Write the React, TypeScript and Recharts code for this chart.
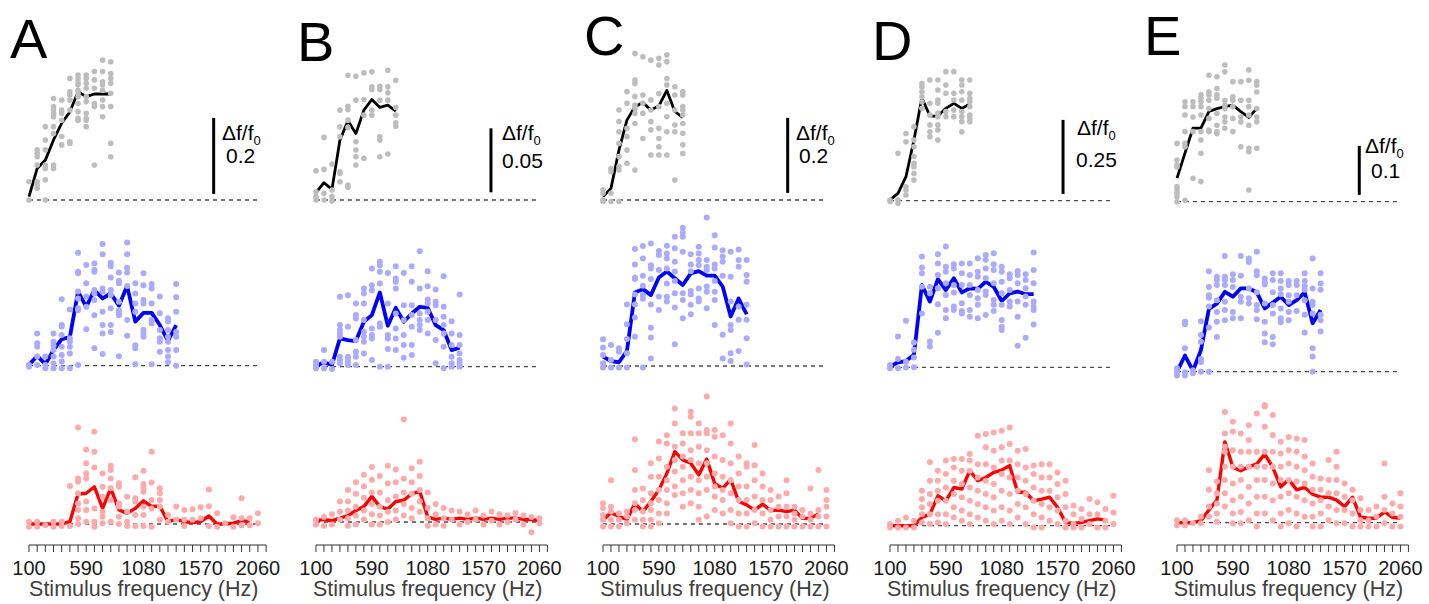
import { ComposedChart, Line, ReferenceLine, Scatter, XAxis, YAxis } from "recharts";

const FONT = '"Liberation Sans", Arial, Helvetica, sans-serif';

// stimulus frequencies (Hz) used by each row
const topFreqs = [100, 170, 240, 310, 380, 450, 520, 590, 660, 730, 800];
const midFreqs = [
  100, 170, 240, 310, 380, 450, 520, 590, 660, 730, 800, 870, 940, 1010, 1080, 1150, 1220, 1290, 1360,
];
const lowFreqs = [
  100, 170, 240, 310, 380, 450, 520, 590, 660, 730, 800, 870, 940, 1010, 1080, 1150, 1220, 1290, 1360,
  1430, 1500, 1570, 1640, 1710, 1780, 1850, 1920, 1990, 2060,
];
const axisTicks = [...lowFreqs, 2130];
const labeledTicks = [100, 590, 1080, 1570, 2060];

// ---------- A ----------
const aTopMean = [0.009, 0.083, 0.105, 0.158, 0.202, 0.232, 0.285, 0.272, 0.279, 0.279, 0.279];
const aTopCells = [
  [0.048, 0],
  [0.132, 0.123, 0.114, 0.092, 0.048, 0.039, 0.031],
  [0.193, 0.158, 0.132, 0.092, 0.083, 0.053, 0],
  [0.267, 0.246, 0.237, 0.228, 0.219, 0.193, 0.175, 0.092, 0.083],
  [0.263, 0.237, 0.228, 0.21, 0.167, 0.145],
  [0.32, 0.285, 0.276, 0.263, 0.237, 0.153, 0.149],
  [0.329, 0.32, 0.311, 0.303, 0.289, 0.281, 0.272, 0.254, 0.232, 0.215, 0.21],
  [0.329, 0.32, 0.307, 0.294, 0.272, 0.259, 0.228, 0.215, 0.21, 0.193],
  [0.338, 0.316, 0.294, 0.254, 0.246, 0.092],
  [0.368, 0.338, 0.311, 0.303, 0.289, 0.263, 0.246, 0.219],
  [0.364, 0.333, 0.32, 0.307, 0.281, 0.246, 0.149, 0.114],
];
const aMidMean = [
  0.002, 0.026, 0.004, 0.041, 0.07, 0.075, 0.195, 0.155, 0.199, 0.177, 0.19, 0.158, 0.21, 0.116, 0.139, 0.139,
  0.107, 0.065, 0.107,
];
const aMidCells = [
  [0.002, -0.003],
  [0.085, 0.059, 0.05, 0.024, 0.002],
  [0.024, 0.002, -0.007],
  [0.085, 0.063, 0.054, 0.041, 0.024, 0.006, -0.007],
  [0.175, 0.107, 0.103, 0.081, 0.05, 0.028, 0.011, -0.007],
  [0.148, 0.072, 0.063, 0.05, 0.032, -0.007],
  [0.297, 0.247, 0.243, 0.195, 0.177, 0.151, 0.146, 0.002],
  [0.265, 0.217, 0.182, 0.155, 0.096],
  [0.269, 0.252, 0.247, 0.199, 0.19, 0.173, 0.133, 0.046],
  [0.32, 0.293, 0.203, 0.195, 0.142, 0.107, 0.085, 0.031],
  [0.271, 0.262, 0.232, 0.199, 0.186, 0.151, 0.107, 0.089],
  [0.245, 0.223, 0.217, 0.168, 0.146, 0.138, 0.133, 0.025],
  [0.324, 0.293, 0.258, 0.245, 0.21, 0.12, 0.079],
  [0.217, 0.19, 0.164, 0.142, 0.054, 0.046, 0.004],
  [0.243, 0.212, 0.173, 0.164, 0.094, 0.085, 0.076],
  [0.215, 0.203, 0.164, 0.12, 0.111, 0.004],
  [0.182, 0.138, 0.094, 0.072, 0.063, 0.037],
  [0.125, 0.116, 0.094, 0.076, 0.063, 0.041, 0.024, 0.009],
  [0.215, 0.18, 0.142, 0.089, 0.076, 0.041, 0],
];
const aLowMean = [
  0, 0, 0, 0, 0, 0.006, 0.079, 0.081, 0.098, 0.041, 0.094, 0.037, 0.028, 0.041, 0.061, 0.046, 0.047, 0.006,
  0.012, 0.006, 0.004, 0.006, 0.021, 0, 0, 0.002, 0.009, 0.006,
];
const aLowCells = [
  [0.006, -0.007],
  [0.006, -0.007],
  [-0.003],
  [0.006, -0.007],
  [0.006, -0.005],
  [0.1, -0.005],
  [0.254, 0.12, 0.111, 0.081, 0.054, 0.037, 0.015, 0],
  [0.196, 0.16, 0.133, 0.12, 0.059, 0.037, 0.006],
  [0.243, 0.19, 0.149, 0.041, 0.006, -0.007],
  [0.133, 0.098, 0.072, 0.032, 0.019, 0.002],
  [0.153, 0.142, 0.12, 0.094, 0.063, 0.006],
  [0.107, 0.098, 0.054, 0.046, 0.019, 0],
  [0.072, 0.032, 0.006, -0.005],
  [0.123, 0.068, 0.059, 0.024, -0.005],
  [0.14, 0.105, 0.094, 0.085, 0.046, 0.024, -0.005],
  [0.19, 0.109, 0.063, 0.041, -0.007],
  [0.094, 0.081, 0.063, 0.046, 0.011],
  [0.024, 0.006],
  [0.046, 0.011],
  [0.037, 0.011, -0.005],
  [0.039, 0.011],
  [0.044, 0.015],
  [0.091, 0.047, -0.005],
  [0.028, -0.007],
  [0.002],
  [0.018, -0.007],
  [0.068, 0.015, -0.003],
  [0.015, -0.003],
  [0.028, 0.002],
];

// ---------- B ----------
const bTopMean = [0.0057, 0.0135, 0.0083, 0.0468, 0.0619, 0.052, 0.0702, 0.0785, 0.0723, 0.0741, 0.0694];
const bTopCells = [
  [0.0065, 0.0026, 0, 0.0229],
  [0.0239, 0.0052, 0, 0.0489],
  [0.0281, 0.0078, 0.0026, -0.0008],
  [0.0702, 0.0572, 0.0494, 0.0221, 0.0208, 0.0143],
  [0.0975, 0.0733, 0.0707, 0.0624, 0.0567, 0.0117, 0.0099],
  [0.0967, 0.078, 0.0455, 0.039, 0.0338, 0.0273],
  [0.0993, 0.0785, 0.0663, 0.0325],
  [0.1001, 0.0884, 0.0863, 0.0702, 0.0663],
  [0.0889, 0.0863, 0.078, 0.0494, 0.0468, 0.0338],
  [0.1014, 0.0884, 0.0837, 0.078, 0.0359],
  [0.0936, 0.0723, 0.0663, 0.0603, 0.0577],
];
const bMidMean = [
  0.0008, 0.0034, 0.0013, 0.0221, 0.0208, 0.02, 0.0351, 0.0403, 0.058, 0.032, 0.046, 0.0351, 0.0416, 0.0468,
  0.046, 0.0325, 0.0286, 0.013, 0.0148,
];
const bMidCells = [
  [0.0039, 0.0013, -0.0013],
  [0.013, 0.0039, -0.0013],
  [0.0039, -0.0018],
  [0.0546, 0.0325, 0.0286, 0.026, 0.0234, 0.0078, 0.0052, 0.0026],
  [0.0559, 0.0312, 0.0078, 0.0065, 0.0039, 0.0013],
  [0.0494, 0.0403, 0.0377, 0.0208, 0.0117, 0.0078, 0.0013],
  [0.0611, 0.0572, 0.0494, 0.0364, 0.0273, 0.0234, 0.0195, 0.0104],
  [0.0767, 0.0637, 0.0598, 0.0299, 0.0247, 0.0221, 0.0052],
  [0.0819, 0.0793, 0.0741, 0.065, 0.0338, 0.0312, 0],
  [0.0733, 0.0494, 0.0247, 0.0221, 0.0138, 0],
  [0.0785, 0.0689, 0.0663, 0.0611, 0.0416, 0.0299, 0.0221, 0.013],
  [0.0733, 0.0481, 0.0364, 0.0247, 0.0169, 0.007],
  [0.0785, 0.0663, 0.0481, 0.0403, 0.0312, 0.0169, 0.0091],
  [0.0902, 0.0611, 0.0416, 0.0364, 0.0325, 0.0286],
  [0.0746, 0.0629, 0.0525, 0.0494, 0.0429, 0.0364, 0.026],
  [0.0603, 0.0507, 0.0481, 0.0364, 0.0208, 0.0026],
  [0.0707, 0.0468, 0.039, 0.0325, 0.026, 0.0156, -0.0013],
  [0.0356, 0.026, 0.0169, 0.0078, 0.0026, 0],
  [0.0564, 0.0247, 0.0169, 0.0104, 0.0052, 0.0026, 0],
];
const bLowMean = [
  0.001, 0.002, 0.001, 0.003, 0.005, 0.009, 0.012, 0.02, 0.012, 0.01, 0.016, 0.017, 0.022, 0.024, 0.004, 0.002,
  0.003, 0.002, 0.003, 0.002, 0.003, 0.002, 0.003, 0.002, 0.003, 0.003, 0.002, 0.002, 0.001,
];
const bLowCells = [
  [0.002, -0.002],
  [0.004, -0.003],
  [0.006, -0.002],
  [0.016, 0.008, 0.002],
  [0.025, 0.016, 0.009, 0.003, -0.003],
  [0.031, 0.022, 0.012, 0.005, -0.002],
  [0.037, 0.028, 0.019, 0.009, 0.002],
  [0.043, 0.033, 0.023, 0.014, 0.006, -0.002],
  [0.036, 0.023, 0.012, 0.005, -0.002],
  [0.044, 0.03, 0.017, 0.008, 0],
  [0.041, 0.031, 0.02, 0.009, 0.002],
  [0.08, 0.034, 0.023, 0.014, 0.005],
  [0.042, 0.031, 0.022, 0.011, 0.003],
  [0.047, 0.036, 0.025, 0.016, 0.008],
  [0.023, 0.011, 0.003, -0.003],
  [0.014, 0.006, -0.002],
  [0.011, 0.003, -0.003],
  [0.009, 0.002],
  [0.008, -0.002],
  [0.006, 0],
  [0.009, 0.002],
  [0.005, -0.002],
  [0.008, 0.001],
  [0.006, -0.002],
  [0.005, 0],
  [0.007, 0.002],
  [0.005, -0.002],
  [0.004, -0.008],
  [0.003, -0.001],
];

// ---------- C ----------
const cTopMean = [0.009, 0.031, 0.133, 0.213, 0.249, 0.26, 0.24, 0.251, 0.292, 0.236, 0.22];
const cTopCells = [
  [0.027, 0.018, 0, -0.004],
  [0.084, 0.076, 0.018, -0.004],
  [0.24, 0.209, 0.182, 0.151, 0.116, 0.089, 0.08, -0.004],
  [0.289, 0.258, 0.191, 0.169, 0.133, 0.098],
  [0.391, 0.32, 0.311, 0.276, 0.253, 0.244, 0.231, 0.204, 0.08],
  [0.382, 0.28, 0.258, 0.231, 0.164],
  [0.373, 0.267, 0.24, 0.209, 0.187, 0.12],
  [0.378, 0.36, 0.284, 0.249, 0.191, 0.164, 0.142, 0.12],
  [0.387, 0.369, 0.324, 0.307, 0.258, 0.222, 0.182, 0.12],
  [0.302, 0.28, 0.24, 0.2, 0.182, 0.053],
  [0.289, 0.28, 0.249, 0.24, 0.227, 0.204, 0.178, 0.147, 0.124],
];
const cMidMean = [
  0.025, 0.013, 0.01, 0.04, 0.196, 0.205, 0.189, 0.236, 0.252, 0.234, 0.216, 0.247, 0.253, 0.241, 0.241, 0.212,
  0.132, 0.18, 0.138,
];
const cMidCells = [
  [0.071, 0.049, 0.029, 0.007, -0.004],
  [0.056, 0.016, -0.004],
  [0.047, 0.038, -0.004],
  [0.164, 0.111, 0.072, 0.034, -0.004],
  [0.312, 0.271, 0.236, 0.232, 0.191, 0.164, 0.129, 0.078],
  [0.32, 0.287, 0.241, 0.214, 0.189, 0.179, -0.004],
  [0.327, 0.269, 0.26, 0.232, 0.164, 0.102, 0.076, 0.02],
  [0.307, 0.296, 0.256, 0.185, 0.149],
  [0.321, 0.3, 0.287, 0.26, 0.22, 0.185, 0.172],
  [0.345, 0.314, 0.278, 0.252, 0.227, 0.194, 0.156, 0.058],
  [0.369, 0.356, 0.345, 0.305, 0.194, 0.176, 0.127],
  [0.298, 0.271, 0.253, 0.2, 0.191, 0.163, 0.138],
  [0.318, 0.3, 0.283, 0.269, 0.207, 0.18, 0.172],
  [0.396, 0.283, 0.265, 0.256, 0.212, 0.198, 0.154],
  [0.349, 0.316, 0.271, 0.26, 0.227, 0.198, 0.176, 0.109],
  [0.309, 0.292, 0.278, 0.241, 0.083, 0.02],
  [0.305, 0.238, 0.172, 0.109, 0.096, 0.034, 0.013],
  [0.311, 0.283, 0.265, 0.158, 0.123, 0.04],
  [0.283, 0.243, 0.225, 0.163, 0.123, 0.074, 0.004],
];
const cLowMean = [
  0.011, 0.03, 0.02, 0.012, 0.055, 0.033, 0.06, 0.091, 0.135, 0.193, 0.171, 0.162, 0.131, 0.173, 0.108, 0.095,
  0.119, 0.06, 0.051, 0.037, 0.053, 0.036, 0.037, 0.033, 0.037, 0.015, 0.015, 0.027,
];
const cLowCells = [
  [0.055, 0.042, 0.024, 0.011, -0.007],
  [0.117, 0.046, 0.033, 0.011, -0.007],
  [0.028, 0.011, -0.007],
  [0.033, 0.02, 0.002],
  [0.226, 0.144, 0.091, 0.055, 0.037, 0.011],
  [0.095, 0.064, 0.033, 0.011, -0.007],
  [0.162, 0.126, 0.082, 0.055, 0.037, 0.011, -0.007],
  [0.22, 0.175, 0.126, 0.091, 0.064, 0.028, 0.002],
  [0.237, 0.215, 0.153, 0.117, 0.091, 0.055, 0.028],
  [0.308, 0.268, 0.206, 0.171, 0.14, 0.1, 0.077],
  [0.242, 0.215, 0.18, 0.153, 0.117, 0.082, 0.046],
  [0.3, 0.286, 0.242, 0.197, 0.171, 0.126, 0.091, 0.055],
  [0.268, 0.242, 0.206, 0.162, 0.117, 0.082, 0.046, 0.011],
  [0.34, 0.251, 0.242, 0.197, 0.162, 0.126, 0.091, 0.02],
  [0.251, 0.233, 0.18, 0.135, 0.1, 0.073, 0.037],
  [0.237, 0.171, 0.126, 0.091, 0.064, 0.028],
  [0.268, 0.215, 0.162, 0.117, 0.082, 0.037, 0.002],
  [0.18, 0.135, 0.1, 0.064, 0.028, -0.007],
  [0.162, 0.153, 0.1, 0.064, 0.028, -0.007],
  [0.211, 0.157, 0.117, 0.073, 0.037, 0.002],
  [0.135, 0.1, 0.064, 0.028, -0.007],
  [0.091, 0.064, 0.037, 0.011, -0.007],
  [0.073, 0.046, 0.02, -0.007],
  [0.117, 0.082, 0.046, 0.02, -0.007],
  [0.046, 0.028, 0.011, -0.007],
  [0.037, 0.02, -0.007],
  [0.095, 0.028, 0.011, -0.007],
  [0.144, 0.037, 0.02, -0.007],
  [0.091, 0.064, 0.046, 0.02, -0.007],
];

// ---------- D ----------
const dTopMean = [0.002, 0.025, 0.081, 0.205, 0.348, 0.286, 0.286, 0.312, 0.329, 0.312, 0.327];
const dTopCells = [
  [0.002, -0.003],
  [0.002, -0.009, 0.16],
  [0.227, 0.199, 0.047, 0.036, 0.019],
  [0.25, 0.205, 0.182, 0.149, 0.126, 0.115, 0.092, 0.07],
  [0.396, 0.385, 0.368, 0.351, 0.334, 0.312],
  [0.408, 0.329, 0.289, 0.256, 0.233, 0.216],
  [0.408, 0.374, 0.34, 0.329, 0.295, 0.284, 0.256, 0.239, 0.205],
  [0.436, 0.391, 0.363, 0.301, 0.284],
  [0.436, 0.363, 0.34, 0.306, 0.284],
  [0.408, 0.391, 0.368, 0.34, 0.301, 0.284, 0.267, 0.233],
  [0.408, 0.363, 0.346, 0.334, 0.318, 0.289, 0.278, 0.267],
];
const dMidMean = [
  0.002, 0.017, 0.021, 0.042, 0.278, 0.222, 0.298, 0.261, 0.301, 0.253, 0.267, 0.265, 0.289, 0.272, 0.224, 0.25,
  0.256, 0.247, 0.247,
];
const dMidCells = [
  [0.008, -0.003],
  [0.104, 0.028, -0.003],
  [0.157, 0.019, -0.001],
  [0.084, 0.059, 0.033, 0],
  [0.374, 0.337, 0.318, 0.272, 0.182],
  [0.272, 0.25, 0.087, 0.07],
  [0.382, 0.351, 0.312, 0.267, 0.213, 0.117],
  [0.408, 0.34, 0.323, 0.284, 0.244, 0.194, 0.166],
  [0.348, 0.334, 0.278, 0.253, 0.205, 0.194],
  [0.351, 0.318, 0.278, 0.216, 0.19, 0.182],
  [0.351, 0.312, 0.278, 0.244, 0.194, 0.171],
  [0.368, 0.323, 0.306, 0.261, 0.233, 0.211, 0.166],
  [0.379, 0.363, 0.334, 0.301, 0.256, 0.244, 0.177],
  [0.385, 0.348, 0.329, 0.284, 0.227, 0.211, 0.19],
  [0.34, 0.323, 0.289, 0.25, 0.211, 0.16, 0.137, 0.126],
  [0.314, 0.301, 0.261, 0.222, 0.205],
  [0.325, 0.312, 0.284, 0.222, 0.171, 0.073],
  [0.314, 0.295, 0.267, 0.239, 0.211, 0.1],
  [0.388, 0.329, 0.284, 0.222, 0.205, 0.194, 0.145],
];
const dLowMean = [
  0, 0, 0, 0, 0.028, 0.039, 0.101, 0.084, 0.129, 0.124, 0.186, 0.152, 0.163, 0.18, 0.188, 0.203, 0.113, 0.113,
  0.084, 0.09, 0.096, 0.062, 0.011, 0.008, 0.011, 0.017, 0.023, 0.019,
];
const dLowCells = [
  [0.006, -0.006],
  [0.017, -0.006],
  [0.028, -0.006],
  [0.017, -0.006],
  [0.118, 0.09, 0.062, 0.039, 0.011],
  [0.214, 0.152, 0.107, 0.073, 0.039, 0.006],
  [0.186, 0.152, 0.118, 0.084, 0.039, 0.011],
  [0.22, 0.175, 0.129, 0.084, 0.039, 0.006],
  [0.225, 0.197, 0.152, 0.107, 0.062, 0.028],
  [0.225, 0.186, 0.141, 0.096, 0.051, 0.017],
  [0.242, 0.22, 0.186, 0.129, 0.084, 0.039, 0.006],
  [0.304, 0.208, 0.163, 0.118, 0.073, 0.028],
  [0.31, 0.265, 0.208, 0.152, 0.107, 0.062, 0.017],
  [0.315, 0.253, 0.197, 0.141, 0.096, 0.051, 0.006],
  [0.321, 0.265, 0.22, 0.175, 0.118, 0.062, 0.017],
  [0.332, 0.276, 0.22, 0.163, 0.107, 0.051, 0.006],
  [0.253, 0.208, 0.163, 0.118, 0.073, 0.028],
  [0.259, 0.197, 0.152, 0.107, 0.062, 0.006],
  [0.203, 0.175, 0.129, 0.084, 0.039, -0.006],
  [0.208, 0.163, 0.118, 0.073, 0.028, -0.006],
  [0.208, 0.163, 0.118, 0.062, 0.017],
  [0.18, 0.141, 0.096, 0.051, 0.006],
  [0.152, 0.107, 0.062, 0.017, -0.006],
  [0.068, 0.039, 0.006, -0.006],
  [0.056, 0.023, -0.006],
  [0.09, 0.039, 0.006],
  [0.079, 0.039, -0.006],
  [0.056, 0.017, -0.006],
  [0.101, 0.045, 0.006],
];

// ---------- E ----------
const eTopMean = [0.048, 0.099, 0.15, 0.15, 0.184, 0.19, 0.194, 0.197, 0.184, 0.172, 0.19];
const eTopCells = [
  [0.119, 0.085, 0.075, 0.071, 0.031, 0.024, 0.017, 0.01, 0],
  [0.204, 0.194, 0.177, 0.143, 0.119, 0.112, 0.003],
  [0.204, 0.194, 0.173, 0.143, 0.048],
  [0.218, 0.211, 0.204, 0.194, 0.177, 0.143, 0.126, 0.099, 0.041],
  [0.258, 0.224, 0.218, 0.207, 0.19, 0.17, 0.146, 0.143],
  [0.255, 0.231, 0.218, 0.211, 0.18, 0.156, 0.143, 0.139],
  [0.279, 0.265, 0.207, 0.197, 0.19, 0.173, 0.163, 0.15],
  [0.245, 0.214, 0.207, 0.194, 0.17, 0.143],
  [0.245, 0.207, 0.173, 0.163, 0.112],
  [0.269, 0.248, 0.207, 0.194, 0.177, 0.156, 0.109, 0.102, 0.024],
  [0.245, 0.238, 0.224, 0.19, 0.173, 0.163, 0.109],
];
const eMidMean = [
  0, 0.033, 0.002, 0.044, 0.128, 0.139, 0.163, 0.153, 0.17, 0.17, 0.162, 0.129, 0.141, 0.153, 0.136, 0.146,
  0.162, 0.099, 0.126,
];
const eMidCells = [
  [0.007, 0, -0.008],
  [0.102, 0.097, 0.048, -0.001, -0.008],
  [0.003, -0.003],
  [0.103, 0.075, 0.061, 0.026, 0.02, 0],
  [0.205, 0.173, 0.156, 0.151, 0.133, 0.09, 0],
  [0.194, 0.187, 0.177, 0.146, 0.122, 0.102, 0.071],
  [0.236, 0.194, 0.187, 0.177, 0.143, 0.126, 0.105],
  [0.199, 0.187, 0.173, 0.122, 0.109],
  [0.236, 0.196, 0.153, 0.143, 0.109],
  [0.231, 0.224, 0.17, 0.15, 0.139],
  [0.245, 0.205, 0.197, 0.162, 0.136, 0.126, 0.107],
  [0.19, 0.182, 0.178, 0.139, 0.102, 0.078, 0.06],
  [0.201, 0.187, 0.162, 0.136, 0.119, 0.071, 0.056],
  [0.201, 0.185, 0.17, 0.158, 0.129, 0.109, 0.101],
  [0.185, 0.177, 0.156, 0.143, 0.122, 0.105],
  [0.185, 0.177, 0.156, 0.124],
  [0.201, 0.185, 0.175, 0.167, 0.146, 0.116, 0.08],
  [0.231, 0.17, 0.143, 0.136, 0.119, 0.048, 0.031, 0],
  [0.201, 0.18, 0.167, 0.116, 0.105, 0.082],
];
const eLowMean = [
  0, 0, 0, 0.004, 0.026, 0.046, 0.165, 0.113, 0.106, 0.114, 0.12, 0.14, 0.113, 0.073, 0.088, 0.067, 0.072,
  0.058, 0.052, 0.052, 0.046, 0.033, 0.052, 0.011, 0.009, 0.009, 0.022, 0.011, 0.009,
];
const eLowCells = [
  [0.005, -0.005],
  [0.005, -0.005],
  [-0.001],
  [0.012, -0.001],
  [0.107, 0.067, 0.033, 0.012],
  [0.084, 0.06, 0.039, 0.019, 0.002],
  [0.226, 0.182, 0.155, 0.145, 0.114, 0.087, 0.06, 0.033],
  [0.206, 0.186, 0.148, 0.114, 0.08, 0.046, 0.019, -0.001],
  [0.182, 0.145, 0.114, 0.087, 0.053, 0.022, -0.001],
  [0.199, 0.169, 0.145, 0.114, 0.073, 0.039, 0.005],
  [0.223, 0.145, 0.114, 0.087, 0.053, 0.019, -0.008],
  [0.24, 0.237, 0.196, 0.145, 0.114, 0.087, 0.053, 0.019],
  [0.22, 0.179, 0.145, 0.114, 0.08, 0.046, 0.005],
  [0.165, 0.141, 0.114, 0.087, 0.053, 0.019, -0.008],
  [0.175, 0.148, 0.121, 0.087, 0.06, 0.026, -0.001],
  [0.172, 0.145, 0.114, 0.084, 0.053, 0.019, -0.008],
  [0.169, 0.135, 0.107, 0.08, 0.046, 0.012],
  [0.121, 0.094, 0.067, 0.039, 0.012, -0.008],
  [0.09, 0.067, 0.046, 0.019, -0.008],
  [0.128, 0.087, 0.06, 0.033, 0.005],
  [0.145, 0.114, 0.087, 0.06, 0.026, -0.001],
  [0.08, 0.053, 0.026, -0.001],
  [0.067, 0.046, 0.019, -0.008],
  [0.05, 0.026, 0.005, -0.008],
  [0.026, 0.005, -0.008],
  [0.033, 0.012, -0.008],
  [0.121, 0.053, 0.026, -0.001],
  [0.039, 0.019, -0.008],
  [0.06, 0.033, 0.012, -0.008],
];

// row styling / vertical placement (page px)
const rows = [
  { top: 40, bottom: 215, line: "#000000", lineWidth: 2.8, dot: "#bdbdbd", r: 2.8 },
  { top: 210, bottom: 380, line: "#0000ff", lineWidth: 3.8, dot: "#aaaaff", r: 3 },
  { top: 385, bottom: 545, line: "#ff0000", lineWidth: 3.4, dot: "#ffaaaa", r: 3 },
];

const panels = [
  {
    letter: "A", letterX: 10, letterBase: 58, x100: 29.3, k: 0.1168, unit: 380, base: [200, 365.7, 524],
    bar: { f: 1681, from: 0.016, value: 0.2, label: "0.2", dfX: 222, dfBase: 140, valX: 226, valBase: 163 },
    series: [[aTopMean, aTopCells], [aMidMean, aMidCells], [aLowMean, aLowCells]],
  },
  {
    letter: "B", letterX: 297, letterBase: 61, x100: 316, k: 0.114, unit: 1280, base: [200, 366.7, 522],
    bar: { f: 1635, from: 0.006, value: 0.05, label: "0.05", dfX: 502, dfBase: 140, valX: 502, valBase: 168 },
    series: [[bTopMean, bTopCells], [bMidMean, bMidCells], [bLowMean, bLowCells]],
  },
  {
    letter: "C", letterX: 584, letterBase: 55, x100: 603.3, k: 0.114, unit: 375, base: [200, 366, 524],
    bar: { f: 1720, from: 0.019, value: 0.2, label: "0.2", dfX: 796, dfBase: 140, valX: 799, valBase: 163 },
    series: [[cTopMean, cTopCells], [cMidMean, cMidCells], [cLowMean, cLowCells]],
  },
  {
    letter: "D", letterX: 872, letterBase: 60, x100: 890, k: 0.114, unit: 296, base: [200.7, 367.3, 525.7],
    bar: { f: 1618, from: 0.023, value: 0.25, label: "0.25", dfX: 1077, dfBase: 135, valX: 1076, valBase: 167 },
    series: [[dTopMean, dTopCells], [dMidMean, dMidCells], [dLowMean, dLowCells]],
  },
  {
    letter: "E", letterX: 1144, letterBase: 55, x100: 1176.7, k: 0.114, unit: 490, base: [201.7, 371.7, 522.7],
    bar: { f: 1699, from: 0.014, value: 0.1, label: "0.1", dfX: 1365, dfBase: 153, valX: 1371, valBase: 178 },
    series: [[eTopMean, eTopCells], [eMidMean, eMidCells], [eLowMean, eLowCells]],
  },
];

const rowFreqs = [topFreqs, midFreqs, lowFreqs];

// positions an HTML text by its baseline; tight line box
function Txt({ x, base, size, color = "#000", center = false, children }: any) {
  return (
    <div
      style={{
        position: "absolute",
        left: x,
        top: base - 0.7215 * size,
        fontSize: size,
        lineHeight: `${0.75 * size}px`,
        fontFamily: FONT,
        color,
        whiteSpace: "nowrap",
        transform: center ? "translateX(-50%)" : undefined,
      }}
    >
      {children}
    </div>
  );
}

function Row({ panel, rowIndex }: any) {
  const row = rows[rowIndex];
  const freqs = rowFreqs[rowIndex];
  const [mean, cells] = panel.series[rowIndex];
  const base = panel.base[rowIndex];
  const showAxis = rowIndex === 2;
  const ml = 30;
  const mr = 30;
  const plotW = panel.k * (2130 - 100);
  const axisH = showAxis ? 52 : 0;
  const height = row.bottom - row.top + axisH;
  const yDomain = [-(row.bottom - base) / panel.unit, (base - row.top) / panel.unit];

  const dots = cells.flatMap((vals: number[], i: number) => vals.map((v) => ({ f: freqs[i], v })));
  const line = mean.map((v: number, i: number) => ({ f: freqs[i], v }));

  return (
    <div style={{ position: "absolute", left: panel.x100 - ml, top: row.top }}>
      <ComposedChart width={plotW + ml + mr} height={height} margin={{ top: 0, right: mr, bottom: 0, left: ml }}>
        <XAxis
          type="number"
          dataKey="f"
          domain={[100, 2130]}
          hide={!showAxis}
          ticks={axisTicks}
          interval={0}
          tickFormatter={(v: number) => (labeledTicks.includes(v) ? String(v) : "")}
          tick={{ fontSize: 20, fill: "#1a1a1a", fontFamily: FONT }}
          tickLine={{ stroke: "#333", strokeWidth: 1 }}
          axisLine={{ stroke: "#333", strokeWidth: 1.2 }}
          tickSize={7}
          tickMargin={9}
          height={axisH}
        />
        <YAxis type="number" dataKey="v" domain={yDomain} hide />
        <ReferenceLine
          segment={[
            { x: 100, y: 0 },
            { x: 2060, y: 0 },
          ]}
          stroke="#4a4a4a"
          strokeWidth={1.3}
          strokeDasharray="4 4"
        />
        <Scatter
          data={dots}
          dataKey="v"
          isAnimationActive={false}
          shape={(p: any) => <circle cx={p.cx} cy={p.cy} r={row.r} fill={row.dot} />}
        />
        <Line
          data={line}
          dataKey="v"
          type="linear"
          stroke={row.line}
          strokeWidth={row.lineWidth}
          strokeLinejoin="round"
          dot={false}
          activeDot={false}
          isAnimationActive={false}
        />
        {rowIndex === 0 ? (
          <ReferenceLine
            segment={[
              { x: panel.bar.f, y: panel.bar.from },
              { x: panel.bar.f, y: panel.bar.from + panel.bar.value },
            ]}
            stroke="#000"
            strokeWidth={3}
          />
        ) : null}
      </ComposedChart>
    </div>
  );
}

export default function App() {
  return (
    <div
      style={{
        position: "absolute",
        left: 0,
        top: 0,
        width: 1429,
        height: 604,
        background: "#fff",
        overflow: "hidden",
        fontFamily: FONT,
      }}
    >
      {panels.map((panel) => (
        <div key={panel.letter}>
          <Row panel={panel} rowIndex={0} />
          <Row panel={panel} rowIndex={1} />
          <Row panel={panel} rowIndex={2} />
          <Txt x={panel.letterX} base={panel.letterBase} size={56}>
            {panel.letter}
          </Txt>
          <Txt x={panel.bar.dfX} base={panel.bar.dfBase} size={21}>
            Δf/f<span style={{ fontSize: 13, position: "relative", top: 5 }}>0</span>
          </Txt>
          <Txt x={panel.bar.valX} base={panel.bar.valBase} size={21}>
            {panel.bar.label}
          </Txt>
          <Txt x={panel.x100 + panel.k * 980} base={597} size={21.5} color="#404040" center>
            Stimulus frequency (Hz)
          </Txt>
        </div>
      ))}
    </div>
  );
}
